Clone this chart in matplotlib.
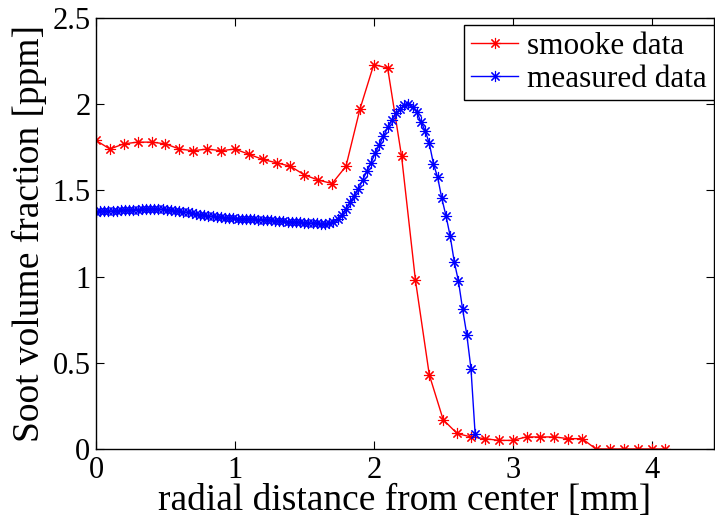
import matplotlib
matplotlib.use("Agg")
import matplotlib.pyplot as plt
import numpy as np

# smooke model output, every 0.1 mm
red_x = [0.0, 0.1, 0.2, 0.3, 0.4, 0.5, 0.6, 0.7, 0.8, 0.9,
         1.0, 1.1, 1.2, 1.3, 1.4, 1.5, 1.6, 1.7, 1.8, 1.9,
         2.0, 2.1, 2.2, 2.3, 2.4, 2.5, 2.6, 2.7, 2.8, 2.9,
         3.0, 3.1, 3.2, 3.3, 3.4, 3.5, 3.6, 3.7, 3.8, 3.9,
         4.0, 4.1]
red_y = [1.79, 1.74, 1.77, 1.78, 1.78, 1.77, 1.74, 1.73, 1.74, 1.73,
         1.74, 1.71, 1.68, 1.66, 1.64, 1.59, 1.56, 1.54, 1.64, 1.97,
         2.23, 2.21, 1.70, 0.98, 0.43, 0.17, 0.09, 0.07, 0.06, 0.05,
         0.05, 0.07, 0.07, 0.07, 0.06, 0.06, 0.0, 0.0, 0.0, 0.0,
         0.0, 0.0]

# measured profile, 0.03 mm grid
blue_x = np.round(np.arange(92) * 0.03, 2)
blue_y = [1.377, 1.378, 1.379, 1.380, 1.381, 1.383, 1.384, 1.385, 1.387, 1.388,
          1.389, 1.390, 1.391, 1.392, 1.392, 1.391, 1.390, 1.388, 1.386, 1.383,
          1.380, 1.376, 1.372, 1.368, 1.364, 1.360, 1.356, 1.352, 1.349, 1.346,
          1.344, 1.342, 1.340, 1.339, 1.337, 1.336, 1.335, 1.334, 1.333, 1.331,
          1.330, 1.329, 1.327, 1.325, 1.323, 1.321, 1.319, 1.317, 1.315, 1.314,
          1.312, 1.311, 1.310, 1.309, 1.307, 1.307, 1.310, 1.318, 1.335, 1.360,
          1.395, 1.430, 1.470, 1.510, 1.560, 1.610, 1.660, 1.715, 1.765, 1.815,
          1.865, 1.908, 1.948, 1.975, 1.995, 2.000, 1.985, 1.955, 1.897, 1.846,
          1.773, 1.653, 1.576, 1.454, 1.353, 1.236, 1.085, 0.973, 0.810, 0.663,
          0.466, 0.087]

plt.rcParams['font.family'] = ['Liberation Serif', 'DejaVu Serif']

fig = plt.figure(figsize=(7.15, 5.19), dpi=100)
ax = fig.add_axes([96/715, 1 - 449/519, 618/715, 431/519])

star = (8, 2, 0)
ax.plot(red_x, red_y, color='red', lw=1.0, marker=star, ms=8, mew=0.8,
        label='smooke data')
ax.plot(blue_x, blue_y, color='blue', lw=1.0, marker=star, ms=8, mew=0.8,
        label='measured data')

ax.set_xlim(0, 4.45)
ax.set_ylim(0, 2.5)
ax.set_xticks([0, 1, 2, 3, 4])
ax.set_yticks([0, 0.5, 1, 1.5, 2, 2.5])
ax.set_yticklabels(['0', '0.5', '1', '1.5', '2', '2.5'])
ax.tick_params(direction='in', length=6, width=0.8, top=True, right=True,
               labelsize=22)
ax.tick_params(axis='x', pad=5)
ax.tick_params(axis='y', pad=4)
for s in ax.spines.values():
    s.set_linewidth(1.0)

ax.set_xlabel('radial distance from center [mm]', fontsize=27, labelpad=-1)
ax.set_ylabel('Soot volume fraction [ppm]', fontsize=27, labelpad=4)

leg = ax.legend(loc='upper right', bbox_to_anchor=(1.0, 0.984),
                borderaxespad=0, fontsize=22.5, numpoints=1, handlelength=1.5,
                handletextpad=0.3, labelspacing=0.12, borderpad=0.22,
                fancybox=False, framealpha=1)
leg.get_frame().set_edgecolor('black')
leg.get_frame().set_linewidth(1.0)

fig.savefig('out.png', dpi=100)
